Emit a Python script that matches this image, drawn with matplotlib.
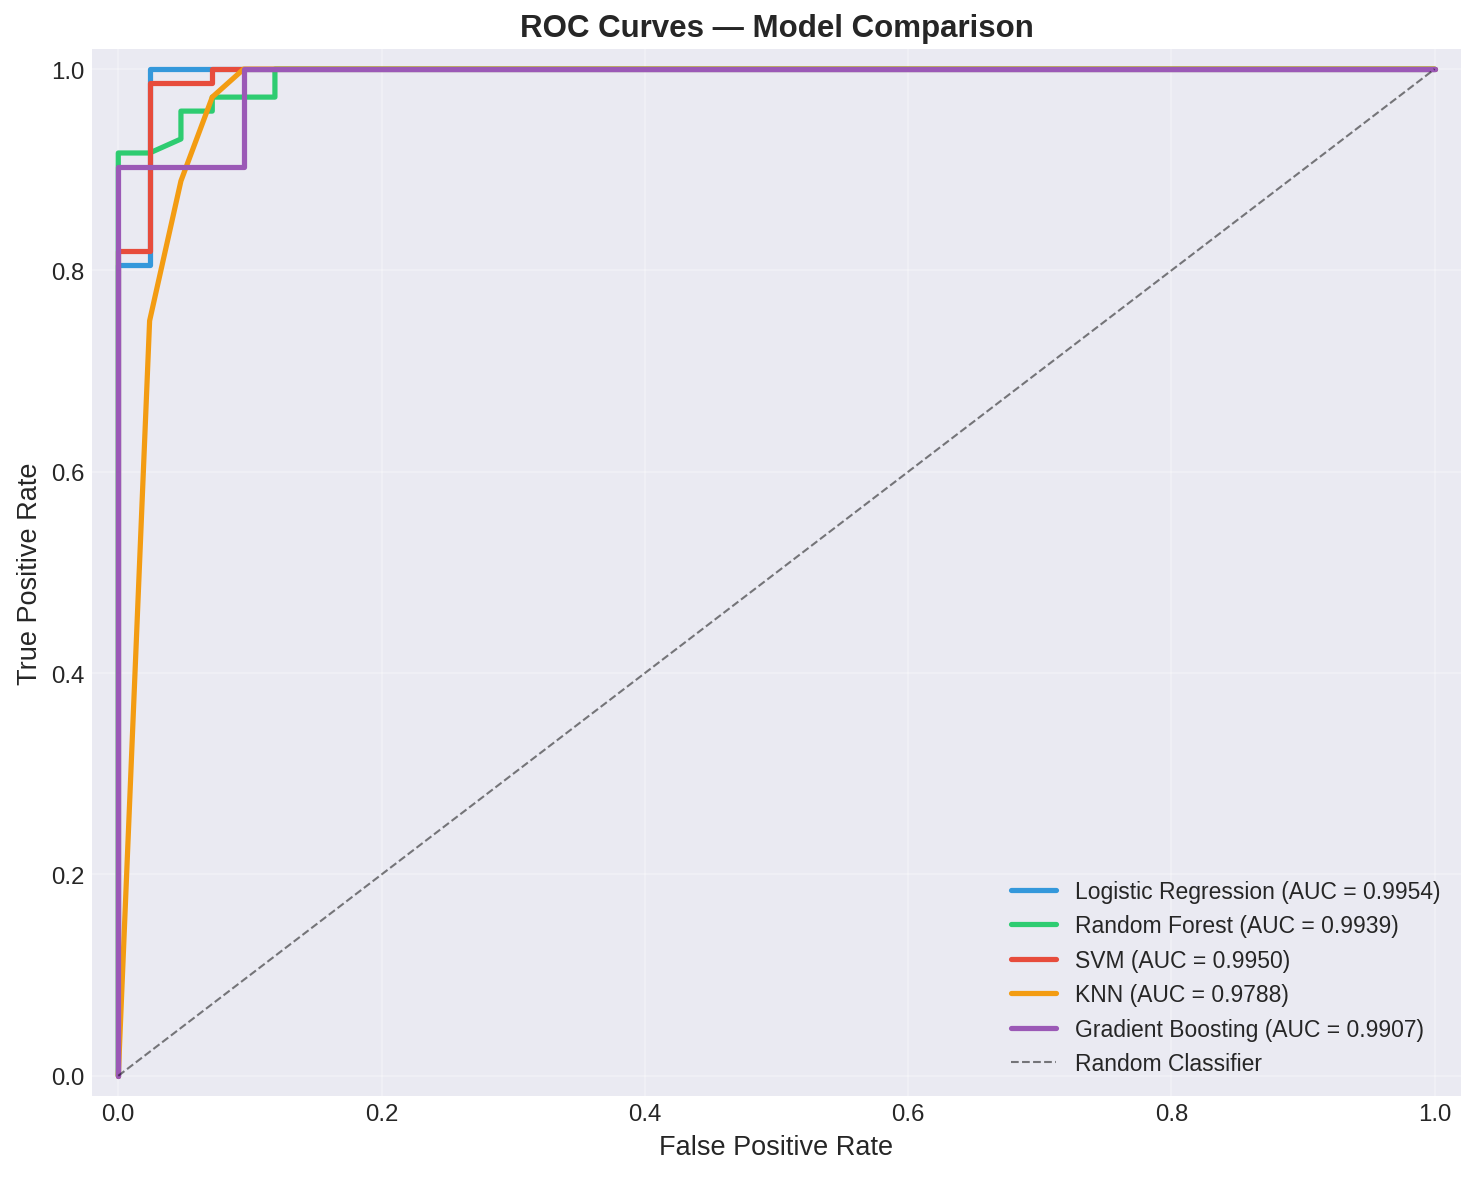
import matplotlib
matplotlib.use("Agg")
import matplotlib.pyplot as plt

plt.style.use("seaborn-v0_8-darkgrid")
plt.rcParams["font.family"] = ["Liberation Sans", "DejaVu Sans"]

# ROC points
models = ["Logistic Regression", "Random Forest", "SVM", "KNN", "Gradient Boosting"]
aucs = [0.9954, 0.9939, 0.9950, 0.9788, 0.9907]
colors = ["#3498db", "#2ecc71", "#e74c3c", "#f39c12", "#9b59b6"]

fpr_lr = [0.0, 0.0, 0.0238, 0.0238, 1.0]
tpr_lr = [0.0, 0.8056, 0.8056, 1.0, 1.0]

fpr_rf = [0.0, 0.0, 0.0238, 0.0476, 0.0476, 0.0714, 0.0714, 0.1190, 0.1190, 1.0]
tpr_rf = [0.0, 0.9167, 0.9167, 0.9306, 0.9583, 0.9583, 0.9722, 0.9722, 1.0, 1.0]

fpr_svm = [0.0, 0.0, 0.0238, 0.0238, 0.0714, 0.0714, 1.0]
tpr_svm = [0.0, 0.8194, 0.8194, 0.9861, 0.9861, 1.0, 1.0]

fpr_knn = [0.0, 0.0238, 0.0476, 0.0714, 0.0952, 1.0]
tpr_knn = [0.0, 0.75, 0.8889, 0.9722, 1.0, 1.0]

fpr_gb = [0.0, 0.0, 0.0952, 0.0952, 1.0]
tpr_gb = [0.0, 0.9028, 0.9028, 1.0, 1.0]

fprs = [fpr_lr, fpr_rf, fpr_svm, fpr_knn, fpr_gb]
tprs = [tpr_lr, tpr_rf, tpr_svm, tpr_knn, tpr_gb]

fig = plt.figure(figsize=(9.84, 7.853), dpi=150)
ax = fig.add_axes([0.0623, 0.0688, 0.9275, 0.8888])

for name, auc, c, fpr, tpr in zip(models, aucs, colors, fprs, tprs):
    ax.plot(fpr, tpr, color=c, lw=2.5, label=f"{name} (AUC = {auc:.4f})")

ax.plot([0, 1], [0, 1], "k--", lw=1, alpha=0.5, label="Random Classifier")

ax.set_xlim(-0.02, 1.02)
ax.set_ylim(-0.02, 1.02)
ax.set_xlabel("False Positive Rate", fontsize=13)
ax.set_ylabel("True Positive Rate", fontsize=13)
ax.set_title("ROC Curves — Model Comparison", fontsize=15, fontweight="bold")
ax.tick_params(labelsize=11.5)
ax.grid(True, alpha=0.3)
ax.legend(loc="lower right", fontsize=11)

fig.savefig("out.png", dpi=150)
